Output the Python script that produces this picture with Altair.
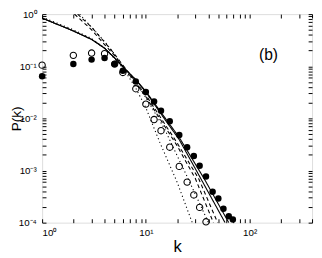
import altair as alt
import pandas as pd

# ---- data ----
k_filled = [1, 2, 3, 4, 5, 6, 8, 10, 12, 14, 17, 21, 25, 29, 33, 38, 44, 50, 56, 63, 69]
p_filled = [0.064, 0.11, 0.134, 0.144, 0.111, 0.082, 0.051, 0.032, 0.021, 0.014, 0.0088,
            0.0048, 0.0028, 0.0019, 0.00123, 0.00077, 0.00039, 0.00029, 0.000185, 0.000133, 0.000115]

k_open = [1, 2, 3, 4, 5, 6, 8, 10, 12, 14, 17, 21, 25, 29, 33, 38]
p_open = [0.105, 0.162, 0.179, 0.174, 0.11, 0.076, 0.037, 0.0188, 0.0095, 0.0058, 0.0028,
          0.0012, 0.0006, 0.00034, 0.000196, 0.000104]

solid1_k = [1, 2, 3, 4, 5, 6, 8, 10, 15, 21, 34, 58]
solid1_p = [0.84, 0.475, 0.327, 0.222, 0.144, 0.098, 0.055, 0.032, 0.0100, 0.0039, 0.00069, 0.0001]
solid2_k = [1, 2, 3, 4, 5, 6, 8, 10, 15, 21, 36.6, 63]
solid2_p = [0.84, 0.475, 0.327, 0.222, 0.144, 0.098, 0.055, 0.033, 0.0108, 0.0043, 0.00069, 0.0001]
dashed1_k = [2.05, 3, 4, 5, 6, 8, 10, 20, 30, 44.8]
dashed1_p = [1.0, 0.5, 0.26, 0.16, 0.1, 0.048, 0.026, 0.0030, 0.0007, 0.0001]
dashed2_k = [2.2, 3, 4, 5, 6, 8, 10, 20, 32.4, 49.2]
dashed2_p = [1.0, 0.56, 0.29, 0.17, 0.105, 0.05, 0.028, 0.0034, 0.00069, 0.0001]
dotted1_k = [2.3, 3, 4, 5, 6, 8, 10, 13.6, 20, 28]
dotted1_p = [1.0, 0.56, 0.3, 0.17, 0.095, 0.038, 0.016, 0.0035, 0.0006, 0.0001]
dotted2_k = [1, 2, 3, 4, 5, 6, 8, 10, 15, 25.6, 40.2]
dotted2_p = [0.88, 0.5, 0.34, 0.225, 0.14, 0.092, 0.048, 0.025, 0.0065, 0.00069, 0.0001]

x_ticks = [1, 2, 3, 4, 5, 6, 7, 8, 9, 10, 20, 30, 40, 50, 60, 70, 80, 90, 100, 200, 300, 400]
y_ticks = [m * 10.0 ** e for e in [-4, -3, -2, -1] for m in range(1, 10)] + [1.0]

label_text = ["(b)"]
label_k = [152]
label_p = [0.162]

# ---- build tables ----
rows = []
for name, style, ks, ps in [
    ("solid1", "solid", solid1_k, solid1_p),
    ("solid2", "solid", solid2_k, solid2_p),
    ("dashed1", "dashed", dashed1_k, dashed1_p),
    ("dashed2", "dashed", dashed2_k, dashed2_p),
    ("dotted1", "dotted", dotted1_k, dotted1_p),
    ("dotted2", "dotted", dotted2_k, dotted2_p),
]:
    for i, (kk, pp) in enumerate(zip(ks, ps)):
        rows.append({"series": name, "style": style, "k": kk, "P": pp, "order": i})
lines_df = pd.DataFrame(rows)
filled_df = pd.DataFrame({"k": k_filled, "P": p_filled})
open_df = pd.DataFrame({"k": k_open, "P": p_open})
text_df = pd.DataFrame({"k": label_k, "P": label_p, "t": label_text})

W, H = 277, 214
FONT = "Liberation Sans"

n = "round(log(datum.value)/LN10)"
sup = {0: "⁰", 1: "¹", 2: "²", -1: "⁻¹", -2: "⁻²", -3: "⁻³", -4: "⁻⁴"}
inner = "''"
for e, s in sup.items():
    inner = f"({n} == {e} ? '{s}' : {inner})"
label_expr = f"abs(log(datum.value)/LN10 - {n}) < 0.001 ? '10' + {inner} : ''"

xscale = alt.Scale(type="log", domain=[1, 400], nice=False)
yscale = alt.Scale(type="log", domain=[1e-4, 1], nice=False)

x_axis = alt.Axis(values=x_ticks, labelExpr=label_expr, orient="bottom", offset=-4,
                  tickSize=4, labelPadding=5, domain=False, grid=False, labelOverlap=False,
                  labelFont=FONT, labelFontSize=10, labelColor="black", tickColor="black",
                  title="k", titleFont=FONT, titleFontSize=17, titleFontWeight="normal",
                  titleColor="black", titlePadding=2)
y_axis = alt.Axis(values=y_ticks, labelExpr=label_expr, orient="left", offset=-4,
                  tickSize=4, labelPadding=6, domain=False, grid=False, labelOverlap=False,
                  labelFont=FONT, labelFontSize=10, labelColor="black", tickColor="black",
                  title="P(k)", titleFont=FONT, titleFontSize=14, titleFontWeight="normal",
                  titleColor="black", titlePadding=-5)
x_axis_top = alt.Axis(values=x_ticks, orient="top", offset=-4, tickSize=4, labels=False,
                      domain=False, grid=False, title=None, tickColor="black")
y_axis_right = alt.Axis(values=y_ticks, orient="right", offset=-4, tickSize=4, labels=False,
                        domain=False, grid=False, title=None, tickColor="black")

lines = alt.Chart(lines_df).mark_line(color="black", strokeWidth=1.1, clip=True).encode(
    x=alt.X("k:Q", scale=xscale, axis=x_axis),
    y=alt.Y("P:Q", scale=yscale, axis=y_axis),
    detail="series:N",
    order="order:Q",
    strokeDash=alt.StrokeDash("style:N", scale=alt.Scale(domain=["solid", "dashed", "dotted"],
                                                         range=[[1, 0], [4, 3], [1.2, 2.8]]),
                              legend=None),
)

filled = alt.Chart(filled_df).mark_point(filled=True, color="black", size=44, opacity=1).encode(
    x=alt.X("k:Q", scale=xscale, axis=None),
    y=alt.Y("P:Q", scale=yscale, axis=None),
)

opened = alt.Chart(open_df).mark_point(filled=False, color="black", size=42, strokeWidth=1.1,
                                       opacity=1).encode(
    x=alt.X("k:Q", scale=xscale, axis=None),
    y=alt.Y("P:Q", scale=yscale, axis=None),
)

label = alt.Chart(text_df).mark_text(font=FONT, fontSize=16, color="black").encode(
    x=alt.X("k:Q", scale=xscale, axis=x_axis_top),
    y=alt.Y("P:Q", scale=yscale, axis=y_axis_right),
    text="t:N",
)

chart = alt.layer(lines, opened, filled, label).resolve_axis(
    x="independent", y="independent"
).properties(
    width=W, height=H,
    autosize=alt.AutoSizeParams(type="none"),
    padding={"left": 35, "top": 3, "right": 2, "bottom": 33},
).configure_view(stroke="black", strokeWidth=1).configure(background="white")

chart.save("out.html", embed_options={"renderer": "svg", "actions": False})
